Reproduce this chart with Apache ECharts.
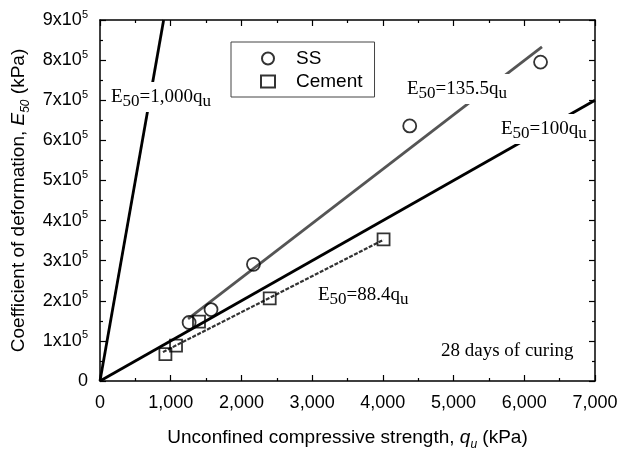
<!DOCTYPE html>
<html>
<head>
<meta charset="utf-8">
<script src="https://cdn.jsdelivr.net/npm/echarts@6/dist/echarts.min.js"></script>
<style>html,body{margin:0;padding:0;background:#fff;}#c{width:618px;height:450px;}</style>
</head>
<body>
<div id="c"></div>
<script>
// Data
const ssQu = [1260, 1570, 2170, 4380, 6230];
const ssE = [146000, 178000, 291000, 636000, 795000];
const cementQu = [925, 1075, 1400, 2400, 4010];
const cementE = [67000, 88000, 148000, 206000, 353000];
// reference / fit lines [qu, E]
const line1000 = [[0, 0], [900, 900000]];
const line100 = [[0, 0], [7000, 700000]];
const fitSS = [[1245, 155000], [6250, 833000]];
const fitCement = [[890, 72000], [4010, 352000]];
const xTicks = [0, 1000, 2000, 3000, 4000, 5000, 6000, 7000];

const chart = echarts.init(document.getElementById('c'));
const sans = 'Liberation Sans, Arial, sans-serif';
const serif = 'Liberation Serif, Times New Roman, serif';

function zip(a, b) { return a.map((v, i) => [v, b[i]]); }

const commonAxisLine = { show: true, onZero: false, lineStyle: { color: '#000', width: 1.5 } };
const tickStyle = { show: true, inside: true, length: 6, lineStyle: { color: '#000', width: 1.2 } };
const minorStyle = { show: true, splitNumber: 2, length: 3, lineStyle: { color: '#000', width: 1.2 } };

function annot(text, x, y) {
  return {
    type: 'text', x: x, y: y, z: 50,
    style: {
      text: text,
      fill: '#000',
      backgroundColor: '#fff',
      padding: [2, 2, 2, 2],
      rich: {
        n: { fontFamily: serif, fontSize: 19, lineHeight: 26, verticalAlign: 'middle', fill: '#000' },
        s: { fontFamily: serif, fontSize: 17, lineHeight: 14, verticalAlign: 'bottom', fill: '#000' }
      }
    }
  };
}

const option = {
  animation: false,
  backgroundColor: '#fff',
  grid: { left: 100, right: 23, top: 20, bottom: 69, containLabel: false, outerBoundsMode: 'none' },
  legend: {
    orient: 'vertical',
    left: 231, top: 42,
    data: ['SS', 'Cement'],
    borderColor: '#444', borderWidth: 1,
    padding: [7, 12, 6, 29],
    itemGap: 4,
    itemWidth: 14, itemHeight: 12,
    textStyle: { fontFamily: sans, fontSize: 19, color: '#000', padding: [0, 0, 0, 16] }
  },
  xAxis: [{
    type: 'value', min: 0, max: 7000, interval: 1000,
    axisLine: commonAxisLine, axisTick: tickStyle, minorTick: minorStyle,
    splitLine: { show: false },
    axisLabel: {
      margin: 13, color: '#000', fontFamily: sans, fontSize: 18,
      formatter: v => xTicks.includes(v) ? v.toLocaleString('en-US') : ''
    },
    name: '{t|Unconfined compressive strength, }{i|q}{s|u}{t| (kPa)}',
    nameLocation: 'middle', nameGap: 44,
    nameTextStyle: {
      rich: {
        t: { fontFamily: sans, fontSize: 19, color: '#000', lineHeight: 26, verticalAlign: 'middle' },
        i: { fontFamily: sans, fontSize: 19, color: '#000', fontStyle: 'italic', lineHeight: 26, verticalAlign: 'middle' },
        s: { fontFamily: sans, fontSize: 12, color: '#000', fontStyle: 'italic', lineHeight: 12, verticalAlign: 'bottom' }
      }
    }
  }, {
    type: 'value', min: 0, max: 7000, interval: 1000, position: 'top',
    axisLine: commonAxisLine, axisTick: tickStyle, minorTick: minorStyle,
    splitLine: { show: false }, axisLabel: { show: false }
  }],
  yAxis: [{
    type: 'value', min: 0, max: 900000, interval: 100000,
    axisLine: commonAxisLine, axisTick: tickStyle, minorTick: minorStyle,
    splitLine: { show: false },
    axisLabel: {
      margin: 12, color: '#000',
      formatter: v => v === 0 ? '{m|0}' : '{m|' + Math.round(v / 100000) + 'x10}{p|5}',
      rich: {
        m: { fontFamily: sans, fontSize: 18, color: '#000', lineHeight: 22, verticalAlign: 'middle' },
        p: { fontFamily: sans, fontSize: 11, color: '#000', lineHeight: 11, verticalAlign: 'top' }
      }
    },
    name: '{t|Coefficient of deformation, }{i|E}{s|50}{t| (kPa)}',
    nameLocation: 'middle', nameGap: 66,
    nameTextStyle: {
      rich: {
        t: { fontFamily: sans, fontSize: 19, color: '#000', lineHeight: 26, verticalAlign: 'middle' },
        i: { fontFamily: sans, fontSize: 19, color: '#000', fontStyle: 'italic', lineHeight: 26, verticalAlign: 'middle' },
        s: { fontFamily: sans, fontSize: 12, color: '#000', fontStyle: 'italic', lineHeight: 12, verticalAlign: 'bottom' }
      }
    }
  }, {
    type: 'value', min: 0, max: 900000, interval: 100000, position: 'right',
    axisLine: commonAxisLine, axisTick: tickStyle, minorTick: minorStyle,
    splitLine: { show: false }, axisLabel: { show: false }
  }],
  series: [
    { type: 'line', name: 'r1000', data: line1000, symbol: 'none', lineStyle: { color: '#000', width: 2.8 }, z: 2, silent: true },
    { type: 'line', name: 'r100', data: line100, symbol: 'none', lineStyle: { color: '#000', width: 2.8 }, z: 2, silent: true },
    { type: 'line', name: 'fitSS', data: fitSS, symbol: 'none', lineStyle: { color: '#555', width: 2.8 }, z: 2, silent: true },
    { type: 'line', name: 'fitC', data: fitCement, symbol: 'none', lineStyle: { color: '#333', width: 2.2, type: [4, 1.5] }, z: 2, silent: true },
    {
      type: 'scatter', name: 'SS', data: zip(ssQu, ssE), symbol: 'circle', symbolSize: 13,
      itemStyle: { color: 'rgba(255,255,255,0)', borderColor: '#000', borderWidth: 1.8 }, z: 5
    },
    {
      type: 'scatter', name: 'Cement', data: zip(cementQu, cementE), symbol: 'rect', symbolSize: 12,
      itemStyle: { color: 'rgba(255,255,255,0)', borderColor: '#000', borderWidth: 1.8 }, z: 5
    }
  ],
  graphic: [
    annot('{n|E}{s|50}{n|=1,000q}{s|u}', 109, 82),
    annot('{n|E}{s|50}{n|=135.5q}{s|u}', 405, 74),
    annot('{n|E}{s|50}{n|=100q}{s|u}', 499, 114),
    annot('{n|E}{s|50}{n|=88.4q}{s|u}', 316, 280),
    {
      type: 'text', x: 441, y: 342, z: 50,
      style: { text: '28 days of curing', fontFamily: serif, fontSize: 19, fill: '#000' }
    }
  ]
};
chart.setOption(option);
</script>
</body>
</html>
